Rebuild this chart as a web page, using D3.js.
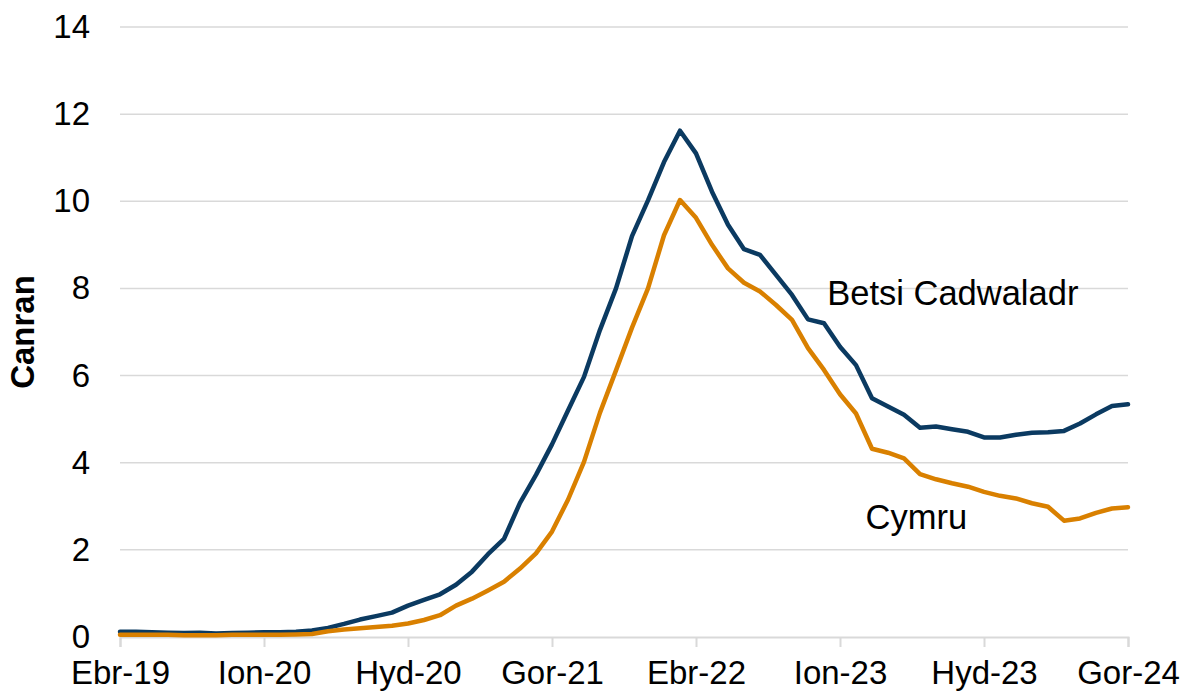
<!DOCTYPE html>
<html>
<head>
<meta charset="utf-8">
<script src="https://cdn.jsdelivr.net/npm/d3@7"></script>
<style>
  html, body { margin: 0; padding: 0; background: #ffffff; }
  svg { display: block; font-family: "Liberation Sans", Arial, sans-serif; }
</style>
</head>
<body>
<svg id="chart" width="1184" height="693"></svg>
<script>
// Monthly series, Apr 2019 (Ebr-19) to Jul 2024 (Gor-24)
const welshMonths = ["Ion","Chw","Maw","Ebr","Mai","Meh","Gor","Aws","Med","Hyd","Tach","Rhag"];
const months = d3.range(64).map(i => {
  const m = (3 + i) % 12, y = 19 + Math.floor((3 + i) / 12);
  return welshMonths[m] + "-" + y;
});

const betsi = [
  0.12, 0.12, 0.11, 0.10, 0.09, 0.10, 0.08, 0.09, 0.10, 0.11,
  0.11, 0.12, 0.15, 0.21, 0.30, 0.40, 0.48, 0.56, 0.72, 0.85,
  0.98, 1.20, 1.50, 1.90, 2.25, 3.08, 3.72, 4.42, 5.20, 5.97,
  7.05, 8.00, 9.20, 10.02, 10.90, 11.62, 11.10, 10.22, 9.46, 8.90,
  8.77, 8.31, 7.85, 7.29, 7.20, 6.66, 6.24, 5.48, 5.29, 5.10,
  4.80, 4.83, 4.77, 4.71, 4.58, 4.58, 4.64, 4.69, 4.70, 4.73,
  4.90, 5.11, 5.30, 5.34
];

const cymru = [
  0.05, 0.05, 0.05, 0.05, 0.04, 0.04, 0.04, 0.05, 0.05, 0.05,
  0.05, 0.06, 0.07, 0.13, 0.17, 0.20, 0.23, 0.26, 0.31, 0.39,
  0.50, 0.72, 0.88, 1.07, 1.27, 1.57, 1.92, 2.42, 3.15, 4.02,
  5.15, 6.12, 7.10, 8.00, 9.22, 10.03, 9.62, 9.00, 8.46, 8.13,
  7.93, 7.62, 7.28, 6.63, 6.13, 5.57, 5.13, 4.32, 4.23, 4.10,
  3.74, 3.62, 3.53, 3.45, 3.33, 3.24, 3.18, 3.07, 2.99, 2.67,
  2.72, 2.85, 2.95, 2.98
];

const xTickLabels = ["Ebr-19","Ion-20","Hyd-20","Gor-21","Ebr-22","Ion-23","Hyd-23","Gor-24"];
const yTicks = [0, 2, 4, 6, 8, 10, 12, 14];
const seriesNames = ["Betsi Cadwaladr", "Cymru"];
const yTitle = "Canran";

const svg = d3.select("#chart");
const margin = { left: 120, right: 1184 - 1128, top: 27, bottom: 693 - 637 };
const W = 1184, H = 693;

const x = d3.scaleLinear().domain([0, months.length - 1]).range([margin.left, W - margin.right]);
const y = d3.scaleLinear().domain([0, 14]).range([H - margin.bottom, margin.top]);

const gridColor = "#d9d9d9";

// gridlines
svg.append("g")
  .selectAll("line")
  .data(yTicks.filter(d => d > 0))
  .join("line")
  .attr("x1", x(0)).attr("x2", x(months.length - 1))
  .attr("y1", d => y(d)).attr("y2", d => y(d))
  .attr("stroke", gridColor).attr("stroke-width", 1.5);

// y axis labels
const yAxis = d3.axisLeft(y).tickValues(yTicks).tickSize(0).tickPadding(30).tickFormat(d3.format("d"));
const gy = svg.append("g").attr("transform", `translate(${margin.left},0)`).call(yAxis);
gy.select(".domain").remove();
gy.selectAll("text")
  .attr("font-size", 33).attr("fill", "#000")
  .attr("font-family", "'Liberation Sans', Arial, sans-serif");

// x axis
const tickIdx = xTickLabels.map(l => months.indexOf(l));
const xAxis = d3.axisBottom(x).tickValues(tickIdx).tickSize(10).tickPadding(14)
  .tickFormat(d => months[d]);
const gx = svg.append("g").attr("transform", `translate(0,${y(0)})`).call(xAxis);
gx.select(".domain").attr("stroke", gridColor).attr("stroke-width", 2);
gx.selectAll(".tick line").attr("stroke", gridColor).attr("stroke-width", 2);
gx.selectAll("text")
  .attr("font-size", 33).attr("fill", "#000")
  .attr("font-family", "'Liberation Sans', Arial, sans-serif");

// y title
svg.append("text")
  .attr("transform", `translate(34,332) rotate(-90)`)
  .attr("text-anchor", "middle")
  .attr("font-size", 33).attr("font-weight", "bold").attr("fill", "#000")
  .text(yTitle);

// lines
const line = d3.line().x((d, i) => x(i)).y(d => y(d));
const colors = ["#0b3a61", "#d98000"];
[betsi, cymru].forEach((s, k) => {
  svg.append("path")
    .datum(s)
    .attr("fill", "none")
    .attr("stroke", colors[k])
    .attr("stroke-width", 4.5)
    .attr("stroke-linejoin", "round")
    .attr("stroke-linecap", "round")
    .attr("d", line);
});

// series labels
const labelPos = [{ i: 44.2, v: 7.62 }, { i: 46.6, v: 2.48 }];
seriesNames.forEach((n, k) => {
  svg.append("text")
    .attr("x", x(labelPos[k].i)).attr("y", y(labelPos[k].v))
    .attr("font-size", 34.5).attr("fill", "#000")
    .text(n);
});
</script>
</body>
</html>
